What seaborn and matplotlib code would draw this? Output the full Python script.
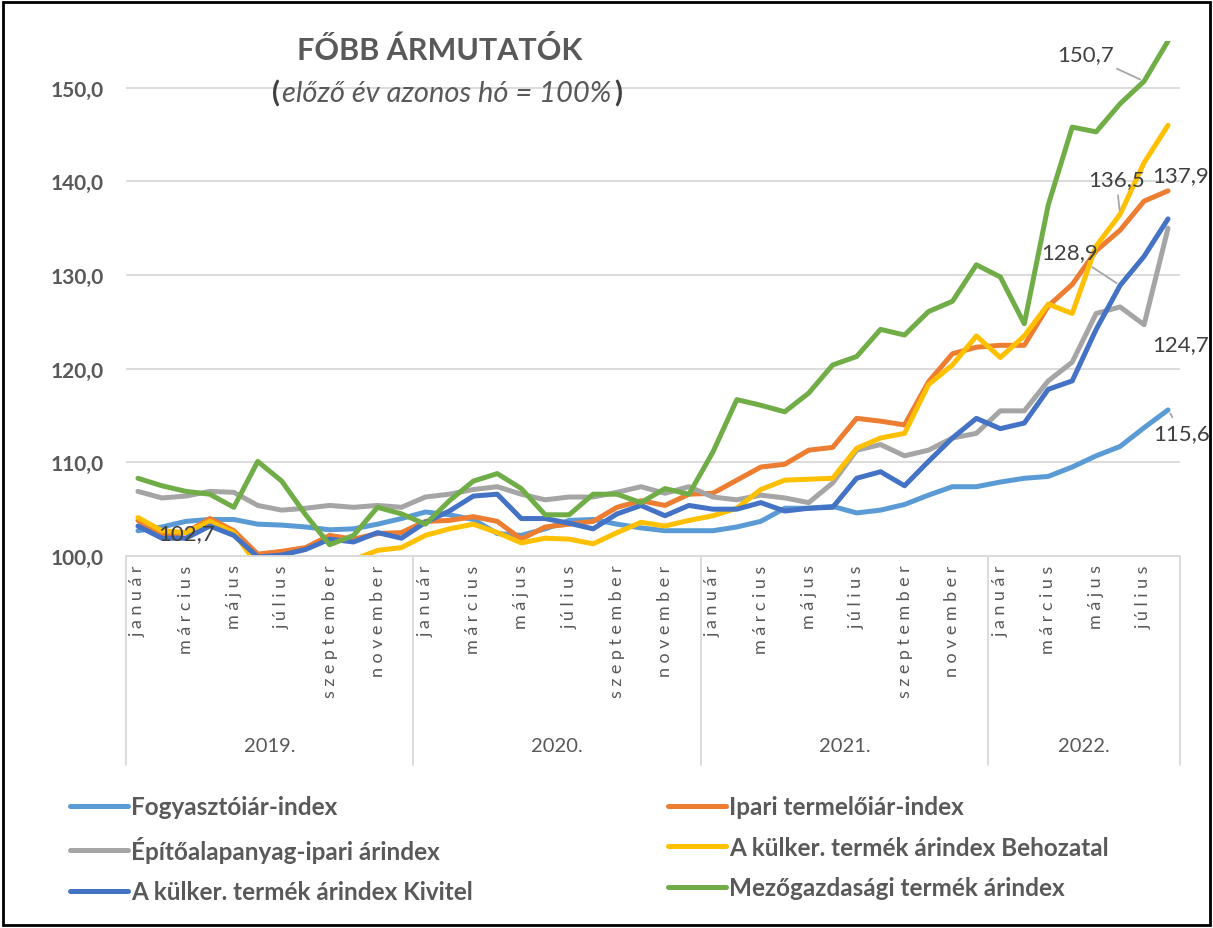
import numpy as np
import pandas as pd
import matplotlib
matplotlib.use("Agg")
import matplotlib.pyplot as plt
import matplotlib.transforms as mtransforms
import seaborn as sns
from matplotlib.lines import Line2D
from matplotlib.patches import Rectangle
from matplotlib.ticker import FuncFormatter

# adatok (előző év azonos hó = 100%)
MONTHS = ["január", "február", "március", "április", "május", "június",
          "július", "augusztus", "szeptember", "október", "november", "december"]
YEARS = ["2019.", "2020.", "2021.", "2022."]
N_MONTHS = [12, 12, 12, 8]

fogyasztoi = [102.7, 103.1, 103.7, 103.9, 103.9, 103.4, 103.3, 103.1, 102.8, 102.9, 103.4, 104.0,
              104.7, 104.4, 103.9, 102.4, 102.2, 102.9, 103.8, 103.9, 103.4, 103.0, 102.7, 102.7,
              102.7, 103.1, 103.7, 105.1, 105.1, 105.3, 104.6, 104.9, 105.5, 106.5, 107.4, 107.4,
              107.9, 108.3, 108.5, 109.5, 110.7, 111.7, 113.7, 115.6]
ipari = [103.8, 102.2, 102.5, 104.0, 102.7, 100.2, 100.5, 100.9, 102.2, 101.8, 102.4, 102.5,
         103.7, 103.8, 104.2, 103.7, 101.8, 103.1, 103.4, 103.7, 105.2, 105.9, 105.4, 106.6,
         106.7, 108.1, 109.5, 109.8, 111.3, 111.6, 114.7, 114.4, 114.0, 118.6, 121.6, 122.3,
         122.5, 122.5, 126.7, 129.0, 132.6, 134.8, 137.9, 139.0]
epitoanyag = [106.9, 106.2, 106.4, 106.9, 106.8, 105.4, 104.9, 105.1, 105.4, 105.2, 105.4, 105.2,
              106.3, 106.6, 107.1, 107.4, 106.6, 106.0, 106.3, 106.3, 106.8, 107.4, 106.7, 107.4,
              106.3, 106.0, 106.5, 106.2, 105.7, 107.8, 111.3, 111.9, 110.7, 111.3, 112.6, 113.1,
              115.5, 115.5, 118.7, 120.7, 125.9, 126.6, 124.7, 135.0]
behozatal = [104.1, 102.7, 102.5, 103.7, 102.5, 99.0, 99.2, 99.3, 99.7, 99.6, 100.6, 100.9,
             102.2, 102.9, 103.4, 102.5, 101.4, 101.9, 101.8, 101.3, 102.5, 103.6, 103.2, 103.8,
             104.3, 105.1, 107.1, 108.1, 108.2, 108.3, 111.5, 112.6, 113.1, 118.3, 120.4, 123.5,
             121.2, 123.5, 126.9, 125.9, 133.1, 136.5, 142.0, 146.0]
kivitel = [103.2, 101.9, 101.9, 103.2, 102.2, 99.9, 100.1, 100.7, 101.8, 101.5, 102.5, 101.9,
           103.6, 104.8, 106.4, 106.6, 104.0, 104.0, 103.5, 102.9, 104.5, 105.4, 104.3, 105.4,
           105.0, 105.0, 105.7, 104.8, 105.1, 105.2, 108.3, 109.0, 107.5, 110.1, 112.6, 114.7,
           113.6, 114.2, 117.8, 118.7, 124.2, 128.9, 132.0, 136.0]
mezogazdasagi = [108.3, 107.5, 106.9, 106.6, 105.2, 110.1, 108.0, 104.4, 101.2, 102.2, 105.2, 104.5,
                 103.4, 105.9, 108.0, 108.8, 107.2, 104.4, 104.4, 106.6, 106.6, 105.7, 107.2, 106.6,
                 111.1, 116.7, 116.1, 115.4, 117.4, 120.4, 121.3, 124.2, 123.6, 126.1, 127.2, 131.1,
                 129.8, 124.8, 137.5, 145.8, 145.3, 148.3, 150.7, 155.0]

SERIES = ["Fogyasztóiár-index", "Ipari termelőiár-index", "Építőalapanyag-ipari árindex",
          "A külker. termék árindex Behozatal", "A külker. termék árindex Kivitel",
          "Mezőgazdasági termék árindex"]
VALUES = [fogyasztoi, ipari, epitoanyag, behozatal, kivitel, mezogazdasagi]
COLORS = ["#5B9BD5", "#ED7D31", "#A5A5A5", "#FFC000", "#4472C4", "#70AD47"]

# feliratozott pontok: (sorozat, hónap index, eltolás px, igazítás, vezetővonal)
LABELS = [
    (0, 0, (20, -2), "left", False),
    (5, 42, (-30, 27), "right", True),
    (1, 42, (8, 26), "left", False),
    (3, 41, (-4, 35), "center", True),
    (4, 41, (-22, 33), "right", True),
    (2, 42, (8, -19), "left", False),
    (0, 43, (14, -23), "center", True),
]

sns.set_style("white")
plt.rcParams["font.family"] = ["Lato", "DejaVu Sans"]

TEXT = "#595959"
GRID = "#d9d9d9"

n = len(fogyasztoi)
df = pd.DataFrame({
    "idx": np.tile(np.arange(n), len(SERIES)),
    "series": np.repeat(SERIES, n),
    "value": np.concatenate(VALUES),
})

fig = plt.figure(figsize=(12.13, 9.29), dpi=100)
ax = fig.add_axes([126 / 1213, 1 - 557 / 929, 1054 / 1213, 515 / 929])

sns.lineplot(data=df, x="idx", y="value", hue="series", hue_order=SERIES,
             palette=COLORS, linewidth=3.6, legend=False, errorbar=None,
             ax=ax, solid_joinstyle="round")

ax.set_xlim(-0.5, n - 0.5)
ax.set_ylim(100, 155)
ax.set_xlabel("")
ax.set_ylabel("")

# y tengely
ax.set_yticks(np.arange(100, 151, 10))
ax.yaxis.set_major_formatter(FuncFormatter(lambda v, p: f"{v:.1f}".replace(".", ",")))
for t in ax.get_yticklabels():
    t.set_fontweight("bold")
ax.tick_params(axis="y", length=0, pad=16, labelsize=15, labelcolor=TEXT)
ax.grid(axis="y", color=GRID, lw=1.3)
ax.set_axisbelow(True)
for s in ["left", "right", "top"]:
    ax.spines[s].set_visible(False)
ax.spines["bottom"].set_color(GRID)
ax.spines["bottom"].set_linewidth(1.3)

# x tengely: hónapok (minden második)
month_labels = [MONTHS[i % 12] for i in range(n)]
ticks = list(range(0, n, 2))
ax.set_xticks(ticks)
ax.set_xticklabels(["\u2005".join(month_labels[i]) for i in ticks], rotation=90, va="top")
ax.tick_params(axis="x", length=0, pad=6, labelsize=13, labelcolor=TEXT)

# évek és elválasztók
trans = mtransforms.blended_transform_factory(ax.transData, ax.transAxes)
bounds = np.concatenate([[0], np.cumsum(N_MONTHS)]) - 0.5
for b in bounds:
    ax.plot([b, b], [0, -0.405], transform=trans, color=GRID, lw=1.3, clip_on=False)
for y, a, b in zip(YEARS, bounds[:-1], bounds[1:]):
    ax.text((a + b) / 2, -0.368, y, transform=trans, ha="center", va="center",
            fontsize=14.5, color=TEXT)

# adatfeliratok
for si, mi, off, ha, leader in LABELS:
    val = VALUES[si][mi]
    ax.annotate(f"{val:.1f}".replace(".", ","), xy=(mi, val), xytext=off,
                textcoords="offset pixels", ha=ha, va="center", fontsize=16,
                color="#404040",
                arrowprops=dict(arrowstyle="-", color="#a6a6a6", lw=1.3,
                                shrinkA=2, shrinkB=3) if leader else None)

# cím
fig.text(440 / 1213, 1 - 50 / 929, "FŐBB ÁRMUTATÓK", ha="center", va="center",
         fontsize=22, fontweight="bold", color=TEXT)
sub = fig.text(447 / 1213, 1 - 94 / 929, "előző év azonos hó = 100%", ha="center",
               va="center", fontsize=21, style="italic", color=TEXT)
fig.canvas.draw()
bb = sub.get_window_extent().transformed(fig.transFigure.inverted())
fig.text(bb.x0 - 0.002, 1 - 94 / 929, "(", ha="right", va="center", fontsize=21,
         fontweight="bold", color="#404040")
fig.text(bb.x1 + 0.002, 1 - 94 / 929, ")", ha="left", va="center", fontsize=21,
         fontweight="bold", color="#404040")

# jelmagyarázat (sorfolytonos sorrend 2 oszlopban)
handles = [Line2D([], [], color=c, lw=3.6) for c in COLORS]
order = [0, 2, 4, 1, 3, 5]
fig.legend([handles[i] for i in order], [SERIES[i] for i in order], ncol=2,
           loc="upper left", bbox_to_anchor=(58 / 1213, 1 - 784 / 929),
           frameon=False, borderpad=0, handlelength=2.4, handletextpad=0.12,
           labelspacing=0.72, columnspacing=8.0,
           prop={"weight": "bold", "size": 17.5}, labelcolor=TEXT)

# keret
fig.patches.append(Rectangle((3 / 1213, 3 / 929), 1 - 6 / 1213, 1 - 6 / 929,
                             transform=fig.transFigure, fill=False, ec="black", lw=2))

fig.savefig("out.png", dpi=100)
